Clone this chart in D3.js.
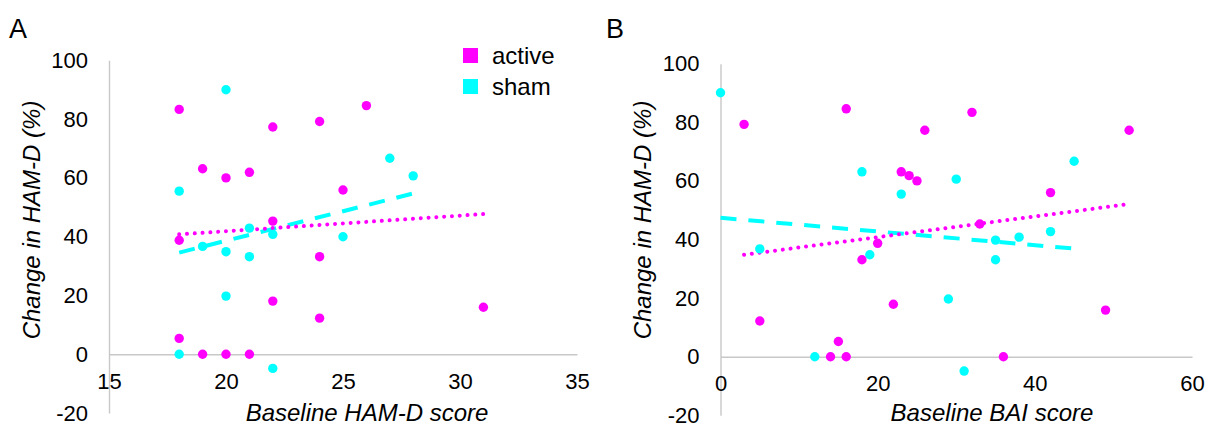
<!DOCTYPE html>
<html>
<head>
<meta charset="utf-8">
<script src="https://cdn.jsdelivr.net/npm/d3@7"></script>
<style>
  html, body { margin: 0; padding: 0; background: #fff; }
  svg { display: block; font-family: "Liberation Sans", Arial, sans-serif; }
</style>
</head>
<body>
<svg id="chart" width="1215" height="429"></svg>
<script>
// Panel A: baseline HAM-D score vs. change in HAM-D (%)
const activeA_x = [18, 18, 18, 19, 19, 20, 20, 21, 21, 22, 22, 22, 24, 24, 24, 25, 26, 31];
const activeA_y = [83.3, 38.8, 5.4, 63.1, 0, 60, 0, 61.9, 0, 77.3, 45.3, 18.1, 79.2, 33.2, 12.3, 55.9, 84.6, 16];
const shamA_x = [18, 18, 19, 20, 20, 20, 21, 21, 22, 22, 25, 27, 28];
const shamA_y = [55.5, 0, 36.7, 90, 34.9, 19.8, 42.9, 33.2, 40.8, -4.8, 40, 66.7, 60.7];

// Panel B: baseline BAI score vs. change in HAM-D (%)
const activeB_x = [3, 5, 14, 15, 16, 16, 18, 20, 22, 23, 24, 25, 26, 32, 33, 36, 42, 49, 52];
const activeB_y = [79.3, 12.2, 0, 5.2, 84.6, 0, 33.1, 38.7, 17.9, 63.1, 61.8, 60, 77.3, 83.4, 45.3, 0, 56, 15.9, 77.3];
const shamB_x = [0, 5, 12, 18, 19, 23, 29, 30, 31, 35, 35, 38, 42, 45];
const shamB_y = [90.1, 36.8, 0, 63.1, 34.8, 55.5, 19.7, 60.6, -4.9, 39.8, 33.1, 40.8, 42.7, 66.7];

// Linear trend lines (end points)
const fitActiveA_x = [18, 31];
const fitActiveA_y = [40.8, 47.7];
const fitShamA_x = [18, 28];
const fitShamA_y = [34.6, 54.7];
const fitActiveB_x = [3, 52];
const fitActiveB_y = [34.8, 52.1];
const fitShamB_x = [0, 45];
const fitShamB_y = [47.4, 36.9];

// Axis ticks
const yTicks = [-20, 0, 20, 40, 60, 80, 100];
const xTicksA = [15, 20, 25, 30, 35];
const xTicksB = [0, 20, 40, 60];

// Legend
const seriesNames = ["active", "sham"];
const seriesColors = ["#ff00ff", "#00ffff"];

const svg = d3.select("#chart");
const plain = d => String(d);   // keep a hyphen-minus on negative ticks

function panel(opts) {
  const x = d3.scaleLinear().domain(opts.xDomain).range(opts.xRange);
  const y = d3.scaleLinear().domain([-20, 100]).range(opts.yRange);
  const g = svg.append("g");

  // y axis (full-height line, labels only)
  const ya = g.append("g")
    .attr("transform", `translate(${opts.xRange[0]},0)`)
    .call(d3.axisLeft(y).tickValues(yTicks).tickFormat(plain)
      .tickSize(0).tickPadding(21).tickSizeOuter(0));
  // x axis along y = 0
  const xa = g.append("g")
    .attr("transform", `translate(0,${y(0)})`)
    .call(d3.axisBottom(x).tickValues(opts.xTicks).tickFormat(plain)
      .tickSize(0).tickPadding(19).tickSizeOuter(0));

  [ya, xa].forEach(a => {
    a.select(".domain").attr("stroke", "#c8c8c8").attr("stroke-width", 1.4);
    a.selectAll("text").attr("font-size", 22).attr("fill", "#000")
      .attr("font-family", '"Liberation Sans", Arial, sans-serif');
  });

  // axis titles
  g.append("text")
    .attr("transform", `translate(${opts.xRange[0] - 78},${opts.yTitleY}) rotate(-90)`)
    .attr("text-anchor", "middle").attr("dominant-baseline", "central")
    .attr("font-size", 24).attr("font-style", "italic")
    .text("Change in HAM-D (%)");
  g.append("text")
    .attr("x", opts.xTitleX).attr("y", 421)
    .attr("text-anchor", "middle")
    .attr("font-size", 24).attr("font-style", "italic")
    .text(opts.xTitle);

  // panel letter
  g.append("text").attr("x", opts.letterX).attr("y", 37.5)
    .attr("font-size", 27).text(opts.letter);

  const line = d3.line().x(d => x(d[0])).y(d => y(d[1]));

  // sham trend (dashed)
  g.append("path")
    .datum(d3.zip(opts.fitShamX, opts.fitShamY))
    .attr("d", line).attr("fill", "none")
    .attr("stroke", seriesColors[1]).attr("stroke-width", 4)
    .attr("stroke-dasharray", "16 12");
  // active trend (dotted)
  g.append("path")
    .datum(d3.zip(opts.fitActiveX, opts.fitActiveY))
    .attr("d", line).attr("fill", "none")
    .attr("stroke", seriesColors[0]).attr("stroke-width", 4)
    .attr("stroke-linecap", "round")
    .attr("stroke-dasharray", "0.01 7.8");

  // points
  g.append("g").selectAll("circle")
    .data(d3.zip(opts.shamX, opts.shamY))
    .join("circle")
    .attr("cx", d => x(d[0])).attr("cy", d => y(d[1])).attr("r", 4.7)
    .attr("fill", seriesColors[1]);
  g.append("g").selectAll("circle")
    .data(d3.zip(opts.activeX, opts.activeY))
    .join("circle")
    .attr("cx", d => x(d[0])).attr("cy", d => y(d[1])).attr("r", 4.7)
    .attr("fill", seriesColors[0]);

  return g;
}

const gA = panel({
  xDomain: [15, 35], xRange: [109, 577], yRange: [413.1, 60.3],
  xTicks: xTicksA, xTitle: "Baseline HAM-D score", xTitleX: 367, yTitleY: 220,
  letter: "A", letterX: 9,
  activeX: activeA_x, activeY: activeA_y, shamX: shamA_x, shamY: shamA_y,
  fitActiveX: fitActiveA_x, fitActiveY: fitActiveA_y, fitShamX: fitShamA_x, fitShamY: fitShamA_y
});

panel({
  xDomain: [0, 60], xRange: [720.5, 1192], yRange: [415.3, 63.7],
  xTicks: xTicksB, xTitle: "Baseline BAI score", xTitleX: 992, yTitleY: 220,
  letter: "B", letterX: 606,
  activeX: activeB_x, activeY: activeB_y, shamX: shamB_x, shamY: shamB_y,
  fitActiveX: fitActiveB_x, fitActiveY: fitActiveB_y, fitShamX: fitShamB_x, fitShamY: fitShamB_y
});

// legend (panel A)
const legend = gA.append("g").attr("transform", "translate(463,48)");
seriesNames.forEach((name, i) => {
  const row = legend.append("g").attr("transform", `translate(0,${i * 31})`);
  row.append("rect").attr("width", 15).attr("height", 15).attr("fill", seriesColors[i]);
  row.append("text").attr("x", 29).attr("y", 16).attr("font-size", 24).text(name);
});
</script>
</body>
</html>
